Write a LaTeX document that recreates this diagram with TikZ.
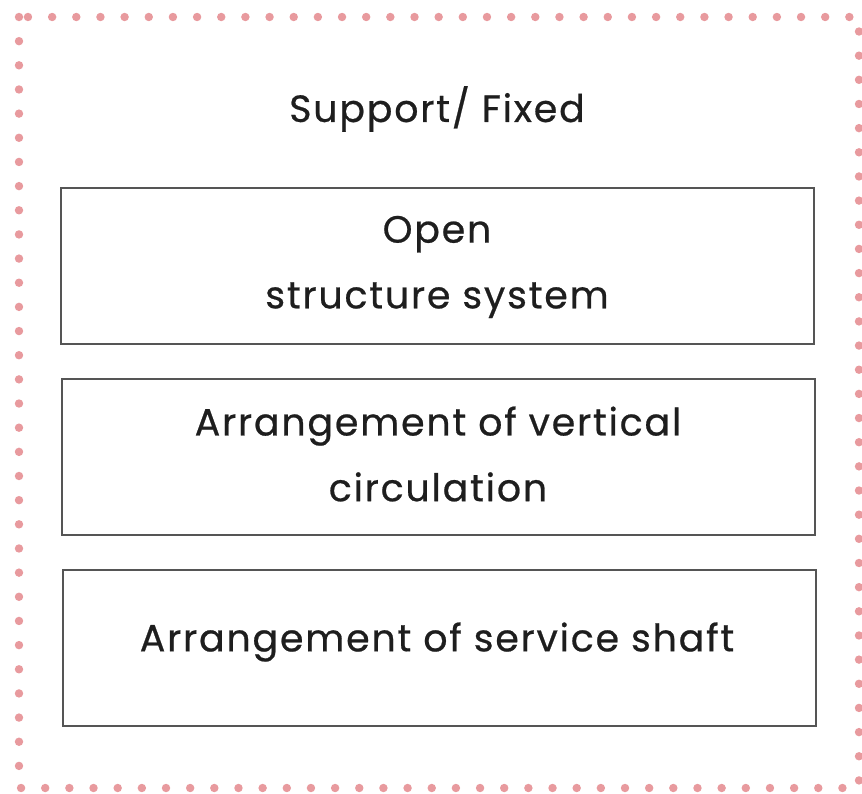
\documentclass[tikz,border=0pt]{standalone}
\usepackage{fontspec}
\setmainfont{Poppins}[LetterSpace=4.7, FakeBold=0.6]
\usepackage{tikz}
\usetikzlibrary{positioning}
\definecolor{dotpink}{RGB}{232,154,158}
\definecolor{framegray}{RGB}{85,85,85}
\definecolor{inkdark}{RGB}{30,30,30}
\tikzset{
	outline/.style = {
		draw           = dotpink,
		line width     = 4.8pt,
		line cap       = round,
		dash pattern   = on 0pt off 13.75pt
	},
	part/.style = {
		draw           = framegray,
		line width     = 0.85pt
	},
	heading/.style = {
		text           = inkdark,
		align          = center,
		font           = \fontsize{21.6}{37.4}\selectfont
	}
}

\begin{document}
\begin{tikzpicture}[x = 0.02cm, y = -0.02cm]
	\useasboundingbox (0,0) rectangle (862,794);
	% dotted frame
	\draw[outline] (19,17) rectangle (859,788);
	% title
	\node[heading] (title) at (437,109) {Support/ Fixed};
	% the three stacked boxes
	\draw[part] (61,188) rectangle (814,344);
	\draw[part] (62,379) rectangle (815,535);
	\draw[part] (63,570) rectangle (816,726);
	\node[heading] (open)  at (437,267) {Open\\structure system};
	\node[heading] (vert)  at (438,454) {Arrangement of vertical\\circulation};
	\node[heading] (shaft) at (437,642) {Arrangement of service shaft};
\end{tikzpicture}
\end{document}
